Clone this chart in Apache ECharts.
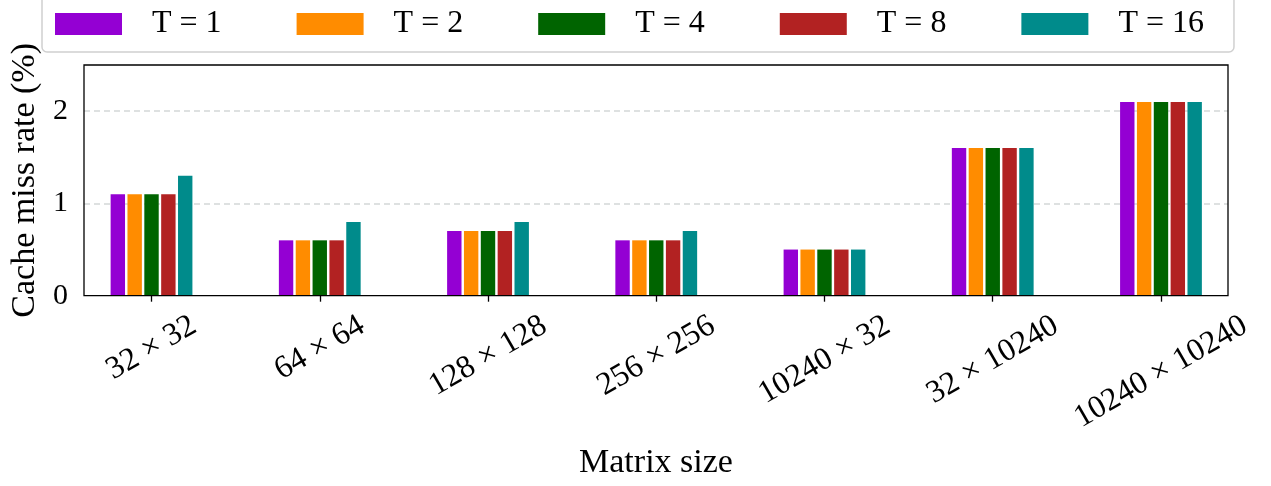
<!DOCTYPE html>
<html>
<head>
<meta charset="utf-8">
<script src="https://cdn.jsdelivr.net/npm/echarts@6/dist/echarts.min.js"></script>
<style>
  html, body {margin: 0; padding: 0; background: #fff;}
  #chart {width: 1271px; height: 486px;}
</style>
</head>
<body>
<div id="chart"></div>
<script>
// data
const categories = ['32 × 32', '64 × 64', '128 × 128', '256 × 256', '10240 × 32', '32 × 10240', '10240 × 10240'];
const seriesNames = ['T = 1', 'T = 2', 'T = 4', 'T = 8', 'T = 16'];
const t1 = [1.1, 0.6, 0.7, 0.6, 0.5, 1.6, 2.1];
const t2 = [1.1, 0.6, 0.7, 0.6, 0.5, 1.6, 2.1];
const t4 = [1.1, 0.6, 0.7, 0.6, 0.5, 1.6, 2.1];
const t8 = [1.1, 0.6, 0.7, 0.6, 0.5, 1.6, 2.1];
const t16 = [1.3, 0.8, 0.8, 0.7, 0.5, 1.6, 2.1];
const colors = ['#9400D3', '#FF8C00', '#006400', '#B22222', '#008B8B'];

const FONT = '"Liberation Serif", "Times New Roman", serif';
const labelSize = 32;

// matplotlib style rotated labels: center each rotated box under its tick
const ctx = document.createElement('canvas').getContext('2d');
ctx.font = labelSize + 'px "Liberation Serif"';
const labelMargin = 40;
const rich = {};
categories.forEach((c, i) => {
	let w = ctx.measureText(c).width;
	let h = labelSize * 1.0;
	let boxH = w * 0.5 + h * 0.866;
	let d = Math.max(0, 14 + boxH / 2 - labelMargin);
	rich['l' + i] = {
		fontFamily: FONT,
		fontSize: labelSize,
		color: '#000',
		padding: [1.732 * d, d, 0, 0]
	};
});

const allData = [t1, t2, t4, t8, t16];
const series = seriesNames.map((name, i) => ({
	name: name,
	type: 'bar',
	xAxisIndex: 0,
	yAxisIndex: 0,
	data: allData[i],
	barWidth: 14.4,
	barGap: '17%',
	itemStyle: {color: colors[i]}
}));

let myChart = echarts.init(document.getElementById('chart'));
myChart.setOption({
	animation: false,
	legend: {
		data: seriesNames,
		left: 42,
		top: -6,
		icon: 'rect',
		itemWidth: 67,
		itemHeight: 22,
		itemGap: 75,
		padding: [12, 30, 10, 13],
		backgroundColor: '#fff',
		borderColor: '#d0d0d0',
		borderWidth: 1.5,
		borderRadius: 5,
		textStyle: {fontFamily: FONT, fontSize: 32, color: '#000', lineHeight: 36, padding: [0, 0, 0, 25]}
	},
	grid: [
		// bar grid: category bands sized like matplotlib (margin 0.4 bar-units)
		{left: 67.4, right: 25.9, top: 65, bottom: 190.3},
		// frame grid
		{left: 84, right: 43, top: 65, bottom: 190.3, show: true, borderColor: '#000', borderWidth: 1.3, z: 5}
	],
	xAxis: [
		{
			type: 'category',
			gridIndex: 0,
			data: categories,
			axisLine: {show: false},
			axisTick: {show: true, alignWithLabel: true, length: 6, lineStyle: {color: '#000', width: 1.3}},
			axisLabel: {
				rotate: 30,
				interval: 0,
				align: 'center',
				verticalAlign: 'middle',
				margin: labelMargin,
				formatter: (v, i) => '{l' + i + '|' + v + '}',
				rich: rich
			}
		},
		{
			type: 'value',
			gridIndex: 1,
			min: 0,
			max: 1,
			axisLine: {show: false},
			axisTick: {show: false},
			axisLabel: {show: false},
			splitLine: {show: false},
			name: 'Matrix size',
			nameLocation: 'middle',
			nameGap: 150,
			nameTextStyle: {fontFamily: FONT, fontSize: 34, color: '#000'}
		}
	],
	yAxis: [
		{
			type: 'value',
			gridIndex: 0,
			min: 0,
			max: 2.5,
			show: false
		},
		{
			type: 'value',
			gridIndex: 1,
			min: 0,
			max: 2.5,
			interval: 1,
			axisLine: {show: false},
			axisTick: {show: false},
			axisLabel: {
				margin: 16,
				fontFamily: FONT,
				fontSize: 30,
				color: '#000',
				showMaxLabel: false,
				formatter: v => (v % 1 === 0 ? String(v) : '')
			},
			splitLine: {show: true, showMinLine: false, showMaxLine: false, lineStyle: {color: '#d3d8d8', type: [6, 4], width: 1.5}},
			name: 'Cache miss rate (%)',
			nameLocation: 'middle',
			nameGap: 40,
			nameTextStyle: {fontFamily: FONT, fontSize: 34, color: '#000'}
		}
	],
	series: series
});
</script>
</body>
</html>
